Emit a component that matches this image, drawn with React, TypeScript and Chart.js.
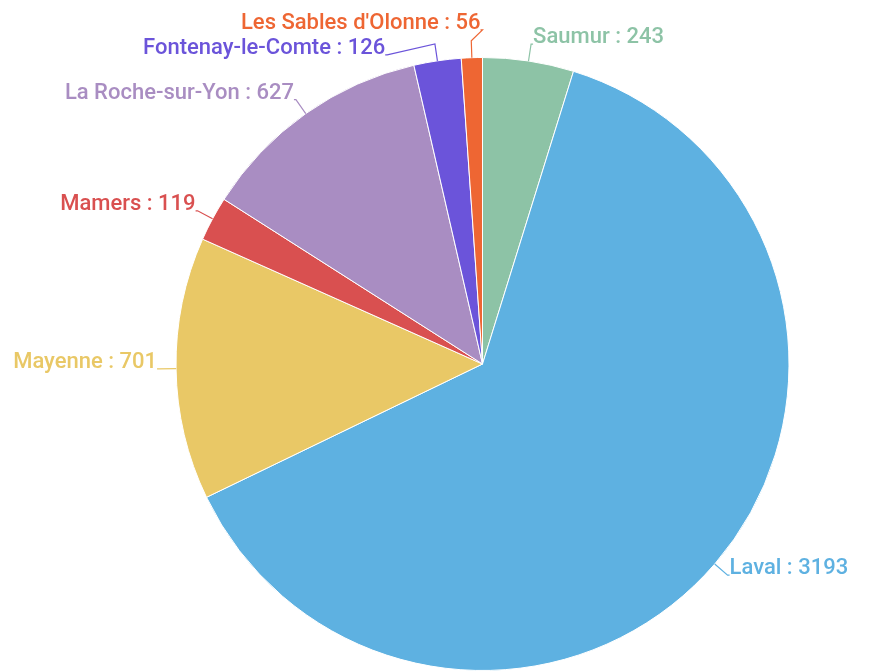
import React, { useEffect, useRef } from "react";
import { Chart, registerables } from "chart.js";

Chart.register(...registerables);

const categories = [
  "Saumur",
  "Laval",
  "Mayenne",
  "Mamers",
  "La Roche-sur-Yon",
  "Fontenay-le-Comte",
  "Les Sables d'Olonne",
];
const values = [243, 3193, 701, 119, 627, 126, 56];
const colors = [
  "#8DC3A6",
  "#5EB1E1",
  "#E9C866",
  "#D95050",
  "#A98DC2",
  "#6B54DA",
  "#EE6633",
];

const FONT = "500 22px Roboto";
const LEN1 = 17;
const LEN2 = 2;
const MIN_GAP = 25;

const labelPlugin = {
  id: "outerLabels",
  afterDatasetsDraw(chart: any) {
    const ctx = chart.ctx as CanvasRenderingContext2D;
    const meta = chart.getDatasetMeta(0);
    type L = {
      i: number;
      ax: number; ay: number;
      ex: number; ey: number;
      x: number; y: number;
      right: boolean;
      shifted: boolean;
    };
    const labels: L[] = [];
    let cx = 0, cy = 0, R = 0;
    meta.data.forEach((arc: any, i: number) => {
      const p = arc.getProps(["x", "y", "startAngle", "endAngle", "outerRadius"], true);
      cx = p.x; cy = p.y; R = p.outerRadius;
      const mid = (p.startAngle + p.endAngle) / 2;
      const c = Math.cos(mid), s = Math.sin(mid);
      const ax = p.x + R * c, ay = p.y + R * s;
      const ex = p.x + (R + LEN1) * c, ey = p.y + (R + LEN1) * s;
      labels.push({ i, ax, ay, ex, ey, x: ex, y: ey, right: c >= 0, shifted: false });
    });
    const rr = R + LEN1;
    [true, false].forEach((side) => {
      const group = labels.filter((l) => l.right === side).sort((a, b) => a.ey - b.ey);
      for (let it = 0; it < 100; it++) {
        let moved = false;
        for (let k = 1; k < group.length; k++) {
          const gap = group[k].y - group[k - 1].y;
          if (gap < MIN_GAP) {
            const d = (MIN_GAP - gap) / 2;
            group[k].y += d;
            group[k - 1].y -= d;
            group[k].shifted = true;
            group[k - 1].shifted = true;
            moved = true;
          }
        }
        if (!moved) break;
      }
      group.forEach((l) => {
        if (l.shifted) {
          const dy = Math.abs(l.y - cy);
          const f = Math.sqrt(Math.max(0, 1 - (dy / rr) * (dy / rr)));
          l.x = cx + (side ? 1 : -1) * f * rr;
        }
      });
    });
    ctx.save();
    ctx.font = FONT;
    ctx.lineWidth = 1.2;
    labels.forEach((l) => {
      const col = colors[l.i];
      const endX = l.right ? l.x + LEN2 : l.x - LEN2;
      ctx.strokeStyle = col;
      ctx.beginPath();
      ctx.moveTo(l.ax, l.ay);
      ctx.lineTo(l.ex, l.ey);
      if (l.shifted) ctx.lineTo(l.x, l.y);
      ctx.lineTo(endX, l.y);
      ctx.stroke();
      ctx.fillStyle = col;
      ctx.textAlign = l.right ? "left" : "right";
      ctx.textBaseline = "alphabetic";
      ctx.fillText(`${categories[l.i]} : ${values[l.i]}`, endX, l.y - 1);
    });
    ctx.restore();
  },
};

export default function App() {
  const ref = useRef<HTMLCanvasElement>(null);
  useEffect(() => {
    document.body.style.margin = "0";
    const chart = new Chart(ref.current!, {
      type: "pie",
      data: {
        labels: categories,
        datasets: [
          {
            data: values,
            backgroundColor: colors,
            borderColor: "#ffffff",
            borderWidth: 1,
          },
        ],
      },
      options: {
        responsive: false,
        animation: false,
        layout: { padding: { top: 57, bottom: 0, left: 175, right: 80 } },
        plugins: {
          legend: { display: false },
          tooltip: { enabled: false },
        },
      },
      plugins: [labelPlugin],
    });
    return () => chart.destroy();
  }, []);
  return (
    <div style={{ width: 870, height: 671, background: "#fff" }}>
      <canvas ref={ref} width={870} height={671} />
    </div>
  );
}
